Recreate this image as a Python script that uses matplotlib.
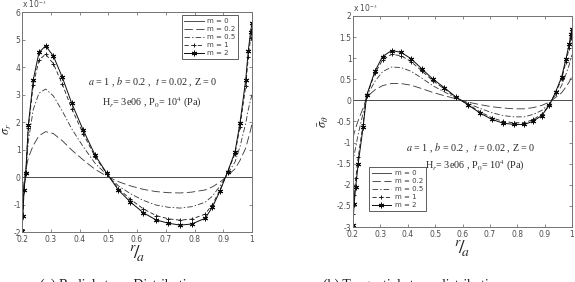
import matplotlib
matplotlib.use("Agg")
import matplotlib.pyplot as plt
from matplotlib.ticker import MultipleLocator, FuncFormatter

plt.rcParams['mathtext.fontset'] = 'stix'
plt.rcParams['lines.scale_dashes'] = False

# radial stress (x 1e-3)
x_r = [0.2, 0.203, 0.207, 0.213, 0.222, 0.239, 0.259, 0.282, 0.309, 0.340, 0.373,
       0.413, 0.454, 0.495, 0.535, 0.576, 0.622, 0.666, 0.709, 0.750, 0.790, 0.837,
       0.862, 0.889, 0.915, 0.941, 0.958, 0.978, 0.987, 0.995, 1.0]
sr_m0 = [0.0] * len(x_r)
sr_m02 = [-0.90, -0.60, -0.15, 0.25, 0.70, 1.15, 1.50, 1.65, 1.58, 1.32, 0.98,
          0.62, 0.28, 0.03, -0.17, -0.32, -0.45, -0.53, -0.57, -0.58, -0.55, -0.47,
          -0.36, -0.18, 0.05, 0.30, 0.60, 1.05, 1.40, 1.70, 1.95]
sr_m05 = [-1.60, -1.15, -0.35, 0.12, 1.30, 2.45, 3.05, 3.20, 2.95, 2.40, 1.75,
          1.10, 0.50, 0.08, -0.32, -0.60, -0.85, -1.02, -1.10, -1.13, -1.08, -0.92,
          -0.70, -0.32, 0.12, 0.55, 1.10, 1.95, 2.45, 2.80, 3.00]
sr_m1 = [-1.90, -1.38, -0.45, 0.14, 1.80, 3.35, 4.25, 4.47, 4.12, 3.38, 2.48,
         1.57, 0.74, 0.12, -0.42, -0.80, -1.16, -1.40, -1.52, -1.57, -1.53, -1.35,
         -1.00, -0.46, 0.17, 0.85, 1.82, 3.30, 4.35, 5.05, 5.40]
sr_m2 = [-1.95, -1.42, -0.47, 0.15, 1.89, 3.53, 4.53, 4.77, 4.40, 3.63, 2.68,
         1.70, 0.80, 0.13, -0.47, -0.90, -1.30, -1.56, -1.68, -1.75, -1.71, -1.50,
         -1.10, -0.50, 0.19, 0.92, 1.96, 3.53, 4.60, 5.28, 5.60]

# tangential stress (x 1e-3)
x_t = [0.2, 0.204, 0.21, 0.219, 0.237, 0.25, 0.28, 0.308, 0.341, 0.375, 0.412,
       0.451, 0.491, 0.534, 0.576, 0.619, 0.664, 0.707, 0.749, 0.788, 0.826, 0.859,
       0.889, 0.917, 0.940, 0.962, 0.978, 0.990, 0.996, 1.0]
st_m0 = [0.0] * len(x_t)
st_m02 = [-0.90, -0.78, -0.65, -0.48, -0.18, 0.08, 0.25, 0.35, 0.40, 0.40, 0.36,
          0.28, 0.19, 0.11, 0.04, -0.04, -0.10, -0.15, -0.18, -0.20, -0.20, -0.17,
          -0.12, -0.04, 0.07, 0.18, 0.32, 0.44, 0.52, 0.56]
st_m05 = [-1.50, -1.30, -1.10, -0.80, -0.30, 0.10, 0.45, 0.68, 0.79, 0.78, 0.69,
          0.53, 0.35, 0.20, 0.06, -0.07, -0.19, -0.29, -0.36, -0.39, -0.39, -0.33,
          -0.24, -0.08, 0.13, 0.35, 0.62, 0.85, 1.00, 1.08]
st_m1 = [-2.70, -2.25, -1.85, -1.35, -0.55, 0.12, 0.64, 0.96, 1.09, 1.06, 0.92,
         0.70, 0.47, 0.27, 0.07, -0.09, -0.27, -0.41, -0.50, -0.53, -0.53, -0.45,
         -0.33, -0.11, 0.18, 0.50, 0.92, 1.25, 1.48, 1.60]
st_m2 = [-2.95, -2.45, -2.05, -1.50, -0.63, 0.12, 0.69, 1.04, 1.18, 1.14, 0.99,
         0.75, 0.51, 0.30, 0.08, -0.10, -0.30, -0.45, -0.54, -0.57, -0.57, -0.49,
         -0.36, -0.12, 0.20, 0.55, 0.99, 1.34, 1.58, 1.68]

labels = ['m = 0', 'm = 0.2', 'm = 0.5', 'm = 1', 'm = 2']
styles = [
    dict(color='0.3', lw=0.7),
    dict(color='0.2', lw=0.6, dashes=(6, 2.5)),
    dict(color='0.2', lw=0.6, dashes=(4, 1.5, 1, 1.5)),
    dict(color='0.1', lw=0.6, dashes=(3, 1.8), marker='+', ms=3, mew=0.7),
    dict(color='0.05', lw=0.7, marker=(6, 2, 0), ms=4, mew=0.7),
]

fmt = FuncFormatter(lambda v, p: ('%g' % v).replace('\u2212', '-'))


def style_axes(ax, ymin, ymax, ystep):
    ax.set_xlim(0.2, 1)
    ax.set_ylim(ymin, ymax)
    ax.xaxis.set_major_locator(MultipleLocator(0.1))
    ax.yaxis.set_major_locator(MultipleLocator(ystep))
    ax.xaxis.set_major_formatter(fmt)
    ax.yaxis.set_major_formatter(fmt)
    ax.tick_params(direction='in', length=2.5, width=0.5, labelsize=5.5,
                   colors='0.35', labelcolor='0.3', pad=1.0,
                   top=True, right=True)
    ax.tick_params(axis='x', pad=2.0)
    for s in ax.spines.values():
        s.set_color('0.45')
        s.set_linewidth(0.7)
    ax.text(0.0, 1.008, r'x 10$^{-3}$', transform=ax.transAxes, fontsize=5.5,
            color='0.3', va='bottom', ha='left')


fig = plt.figure(figsize=(5.75, 2.82), dpi=100)
ax1 = fig.add_axes([0.0383, 0.1773, 0.400, 0.780])
ax2 = fig.add_axes([0.6139, 0.1950, 0.3809, 0.7483])

for ys, lab, st in zip([sr_m0, sr_m02, sr_m05, sr_m1, sr_m2], labels, styles):
    ax1.plot(x_r, ys, label=lab, **st)
for ys, lab, st in zip([st_m0, st_m02, st_m05, st_m1, st_m2], labels, styles):
    ax2.plot(x_t, ys, label=lab, **st)

style_axes(ax1, -2, 6, 1)
style_axes(ax2, -3, 2, 0.5)

leg_kw = dict(fontsize=5, frameon=True, fancybox=False, edgecolor='0.2',
              handlelength=2.8, handletextpad=0.5, borderpad=0.4,
              labelspacing=0.3, borderaxespad=0.0)
l1 = ax1.legend(loc='upper right', bbox_to_anchor=(0.94, 0.985), **leg_kw)
l2 = ax2.legend(loc='lower left', bbox_to_anchor=(0.073, 0.075), **leg_kw)
for l in (l1, l2):
    l.get_frame().set_linewidth(0.7)
    for t in l.get_texts():
        t.set_color('0.25')

tkw = dict(fontsize=7.3, family='Liberation Serif', ha='center', va='center', color='0.15')
ax1.text(0.656, 3.45, r'$a$ = 1 , $b$ = 0.2 ,  $t$ = 0.02 , Z = 0', **tkw)
ax1.text(0.652, 2.69, r'H$_r$= 3e06 , P$_0$= 10$^4$ (Pa)', **tkw)
ax2.text(0.630, -1.14, r'$a$ = 1 , $b$ = 0.2 ,  $t$ = 0.02 , Z = 0', **tkw)
ax2.text(0.645, -1.56, r'H$_r$= 3e06 , P$_0$= 10$^4$ (Pa)', **tkw)

ax1.set_ylabel(r'$\bar{\sigma}_r$', fontsize=9, color='0.15')
ax2.set_ylabel(r'$\bar{\sigma}_\theta$', fontsize=9, color='0.15')
ax1.yaxis.set_label_coords(-0.033, 0.47)
ax2.yaxis.set_label_coords(-0.10, 0.5)
ax1.set_xlabel(r'$^{r}\!/\!_{a}$', fontsize=14, labelpad=0, color='0.15')
ax2.set_xlabel(r'$^{r}\!/\!_{a}$', fontsize=14, labelpad=0, color='0.15')

fig.text(0.07, 0.012, '(a) Radial stress Distribution', fontsize=10,
         family='Liberation Serif', ha='left', va='top', color='0.1')
fig.text(0.562, 0.012, '(b) Tangential stress distribution', fontsize=10,
         family='Liberation Serif', ha='left', va='top', color='0.1')

fig.savefig('out.png', dpi=100)
